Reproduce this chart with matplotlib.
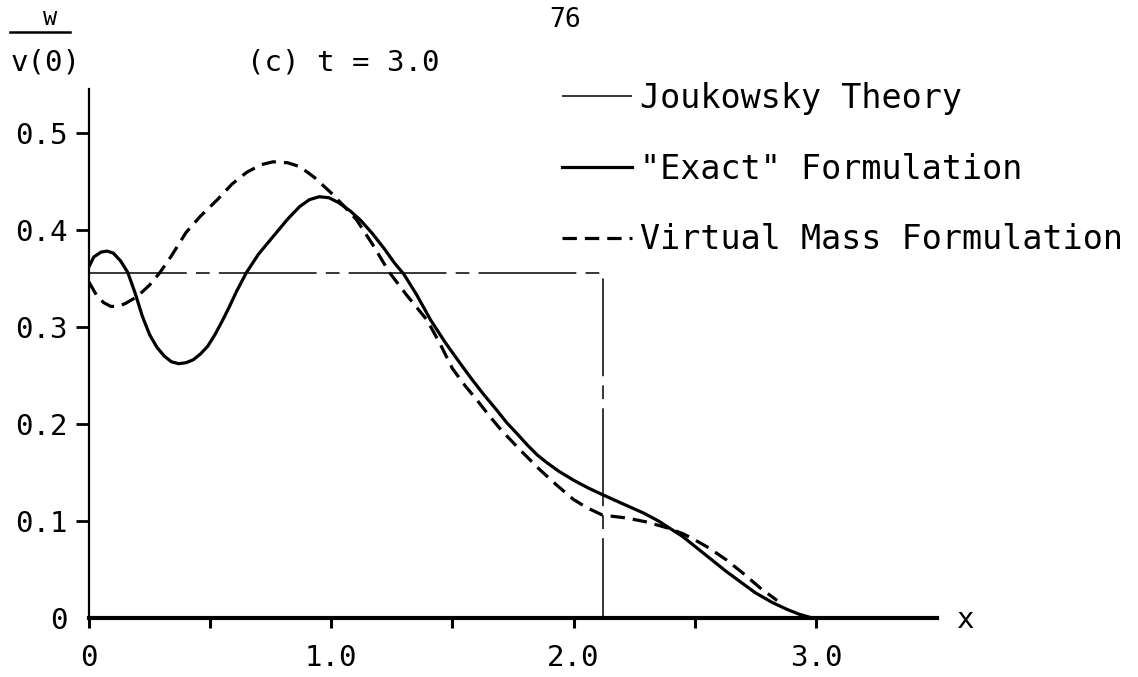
import numpy as np
import matplotlib
matplotlib.use('Agg')
import matplotlib.pyplot as plt
from matplotlib.lines import Line2D

# --- Data (w / v(0) along x at t = 3.0) ---
x_exact = [0.00, 0.02, 0.05, 0.075, 0.10, 0.13, 0.16, 0.19, 0.22, 0.25, 0.28,
           0.31, 0.34, 0.37, 0.40, 0.43, 0.46, 0.49, 0.52, 0.55, 0.58, 0.61,
           0.65, 0.70, 0.76, 0.82, 0.87, 0.91, 0.95, 0.99, 1.03, 1.08, 1.12,
           1.17, 1.22, 1.26, 1.30, 1.35, 1.41, 1.47, 1.53, 1.58, 1.63, 1.68,
           1.725, 1.77, 1.81, 1.85, 1.89, 1.94, 2.00, 2.06, 2.12, 2.20, 2.29,
           2.35, 2.40, 2.45, 2.51, 2.57, 2.63, 2.69, 2.75, 2.82, 2.88, 2.93,
           2.985]
y_exact = [0.362, 0.372, 0.377, 0.378, 0.376, 0.368, 0.356, 0.335, 0.311, 0.292,
           0.279, 0.270, 0.264, 0.262, 0.263, 0.266, 0.272, 0.280, 0.292, 0.306,
           0.321, 0.337, 0.356, 0.375, 0.393, 0.411, 0.424, 0.431, 0.434, 0.433,
           0.428, 0.419, 0.410, 0.396, 0.380, 0.366, 0.354, 0.334, 0.307, 0.284,
           0.263, 0.246, 0.230, 0.215, 0.201, 0.189, 0.178, 0.168, 0.160, 0.151,
           0.142, 0.134, 0.127, 0.118, 0.108, 0.100, 0.092, 0.084, 0.072, 0.060,
           0.048, 0.037, 0.026, 0.016, 0.009, 0.004, 0.000]

x_virtual = [0.00, 0.03, 0.06, 0.09, 0.12, 0.15, 0.198, 0.25, 0.293, 0.34, 0.40,
             0.46, 0.53, 0.59, 0.65, 0.71, 0.76, 0.82, 0.87, 0.93, 0.995, 1.05,
             1.105, 1.17, 1.24, 1.31, 1.395, 1.45, 1.50, 1.55, 1.60, 1.65, 1.70,
             1.78, 1.86, 1.93, 2.00, 2.06, 2.12, 2.22, 2.30, 2.385, 2.45, 2.49,
             2.56, 2.63, 2.70, 2.77, 2.84]
y_virtual = [0.346, 0.333, 0.325, 0.321, 0.321, 0.324, 0.331, 0.343, 0.356, 0.373,
             0.397, 0.414, 0.431, 0.447, 0.459, 0.467, 0.470, 0.469, 0.465, 0.454,
             0.439, 0.425, 0.410, 0.385, 0.356, 0.333, 0.307, 0.282, 0.257, 0.240,
             0.225, 0.209, 0.194, 0.173, 0.153, 0.137, 0.122, 0.113, 0.106, 0.103,
             0.099, 0.093, 0.087, 0.082, 0.072, 0.060, 0.046, 0.031, 0.018]

# Joukowsky: constant level up to the front, then drop to zero
x_jouk = [0.0, 2.12, 2.12]
y_jouk = [0.355, 0.355, 0.0]

x_ticks = [0, 0.5, 1.0, 1.5, 2.0, 2.5, 3.0]
x_ticklabels = ['0', '', '1.0', '', '2.0', '', '3.0']
y_ticks = [0, 0.1, 0.2, 0.3, 0.4, 0.5]
y_ticklabels = ['0', '0.1', '0.2', '0.3', '0.4', '0.5']

plt.rcParams['font.family'] = ['DejaVu Sans Mono']

fig = plt.figure(figsize=(11.38, 6.77), dpi=100)
ax = fig.add_axes([89 / 1138, 59 / 677, 848 / 1138, 529 / 677])

ax.plot(x_jouk, y_jouk, color='black', lw=1.1, dashes=(64, 6, 9, 6),
        label='Joukowsky Theory')
ax.plot(x_exact, y_exact, color='black', lw=2.3, solid_joinstyle='round',
        label='"Exact" Formulation')
ax.plot(x_virtual, y_virtual, color='black', lw=2.3, dashes=(4.5, 2.5),
        label='Virtual Mass Formulation')

ax.set_xlim(0, 3.5)
ax.set_ylim(0, 0.545)
ax.spines['top'].set_visible(False)
ax.spines['right'].set_visible(False)
ax.spines['left'].set_linewidth(1.6)
ax.spines['bottom'].set_linewidth(3.0)

ax.set_xticks(x_ticks)
ax.set_xticklabels(x_ticklabels)
ax.set_yticks(y_ticks)
ax.set_yticklabels(y_ticklabels)
ax.tick_params(axis='x', direction='out', length=7, width=2.2, pad=12, labelsize=21)
ax.tick_params(axis='y', direction='out', length=9.5, width=2.0, pad=6, labelsize=21)
ax.yaxis.get_major_ticks()[0].tick1line.set_visible(False)

# Axis labels
fig.text(966 / 1138, 1 - 620 / 677, 'x', fontsize=21, ha='center', va='center')
fig.text(50 / 1138, 1 - 18 / 677, 'w', fontsize=17, ha='center', va='center')
fig.add_artist(Line2D([10 / 1138, 70 / 1138], [1 - 32 / 677, 1 - 32 / 677],
                      color='black', lw=1.8))
fig.text(46 / 1138, 1 - 62 / 677, 'v(0)', fontsize=21, ha='center', va='center')

fig.text(247 / 1138, 1 - 62 / 677, '(c) t = 3.0', fontsize=21, ha='left', va='center')
fig.text(565 / 1138, 1 - 20 / 677, '76', fontsize=19, ha='center', va='center')

ax.legend(loc='upper left', bbox_to_anchor=(562 / 1138, 1 - 82 / 677),
          bbox_transform=fig.transFigure, frameon=False, fontsize=24,
          handlelength=2.1, handletextpad=0.25, labelspacing=1.13, borderpad=0,
          borderaxespad=0)

fig.savefig('out.png', dpi=100)
